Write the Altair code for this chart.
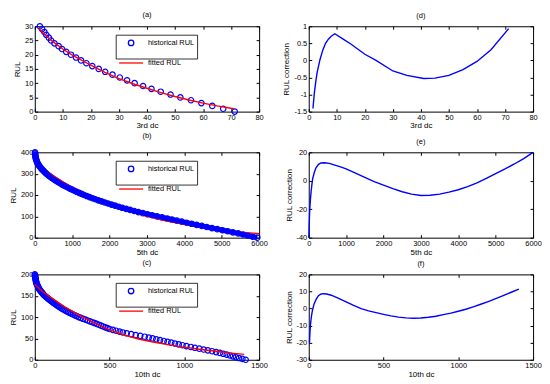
import altair as alt
import pandas as pd

FONT = "Liberation Sans"
BLUE = "#0000ff"
RED = "#ff0000"
FS = 7.5

# ---------------- data ----------------
# (a) 3rd dc
a_hist_x = [1.8, 2.6, 3.4, 4.1, 5.0, 5.8, 7.0, 8.5, 9.7, 11.2, 12.9, 14.7, 16.5, 18.4, 20.5,
            22.8, 25.1, 27.7, 30.3, 32.9, 35.6, 38.6, 41.6, 44.9, 48.4, 51.9, 55.7, 59.4,
            63.3, 67.2, 71.3]
a_hist_y = [30, 29, 28, 27, 26, 25, 24, 23, 22, 21, 20, 19, 18, 17, 16, 15, 14, 13, 12, 11,
            10, 9, 8, 7, 6, 5, 4, 3, 2, 1, 0]
a_fit_x = [1.5, 3, 5, 7.5, 10, 12.5, 15, 20, 25, 30, 35, 40, 45, 50, 55, 60, 65, 71]
a_fit_y = [29.2, 27.6, 25.8, 23.8, 22.0, 20.4, 19.0, 16.3, 13.8, 11.6, 9.8, 8.2, 6.7, 5.3,
           4.1, 3.0, 2.0, 1.0]

# (d) correction, 3rd dc
d_x = [1.5, 2, 2.5, 3, 4, 5, 6, 7, 8, 9.3, 12, 15, 20, 24, 30, 35, 41, 45, 50, 55, 60, 65, 71.3]
d_y = [-1.41, -0.95, -0.62, -0.35, 0.02, 0.3, 0.5, 0.62, 0.71, 0.78, 0.64, 0.48, 0.18, 0.0,
       -0.31, -0.44, -0.53, -0.52, -0.44, -0.27, -0.03, 0.31, 0.93]

# (b) 5th dc
b_hist_x = [5, 7, 10, 14, 18, 24, 30, 38, 48, 59, 72, 88, 105, 124, 145, 169, 195, 222, 250,
            279, 310, 344, 380, 417, 455, 497, 540, 585, 630, 677, 725, 777, 830, 885, 940,
            1000, 1060, 1122, 1185, 1252, 1320, 1392, 1465, 1542, 1620, 1702, 1785, 1872,
            1960, 2052, 2145, 2242, 2340, 2445, 2550, 2660, 2770, 2890, 3010, 3140, 3270,
            3405, 3540, 3670, 3800, 3930, 4060, 4195, 4330, 4465, 4600, 4740, 4880, 5020,
            5160, 5300, 5440, 5570, 5700, 5825, 5950]
b_hist_y = [400, 395, 390, 385, 380, 375, 370, 365, 360, 355, 350, 345, 340, 335, 330, 325,
            320, 315, 310, 305, 300, 295, 290, 285, 280, 275, 270, 265, 260, 255, 250, 245,
            240, 235, 230, 225, 220, 215, 210, 205, 200, 195, 190, 185, 180, 175, 170, 165,
            160, 155, 150, 145, 140, 135, 130, 125, 120, 115, 110, 105, 100, 95, 90, 85, 80,
            75, 70, 65, 60, 55, 50, 45, 40, 35, 30, 25, 20, 15, 10, 5, 0]
b_fit_x = [0, 100, 250, 500, 1000, 1500, 2000, 2500, 3000, 3500, 4000, 4500, 5000, 5500, 6000]
b_fit_y = [355, 340, 318, 290, 234, 190, 155, 125, 100, 79, 62, 47, 36, 26, 19]

# (e) correction, 5th dc
e_x = [3, 10, 26, 45, 61, 80, 105, 150, 193, 260, 330, 420, 550, 700, 850, 1000, 1250, 1500,
       1750, 2000, 2250, 2500, 2750, 3000, 3250, 3500, 3750, 4000, 4250, 4500, 4750, 5000,
       5250, 5500, 5750, 5990]
e_y = [-40, -32, -20.4, -13, -8.3, -3.5, 1.5, 6, 9.1, 11.5, 12.5, 12.7, 12.2, 11, 9.8, 8.3,
       5.3, 2.4, -0.6, -3.1, -5.5, -7.7, -9.4, -10.4, -10.2, -9.4, -8.0, -6.3, -4.1, -1.5,
       1.6, 5.0, 8.3, 11.8, 15.6, 19.8]

# (c) 10th dc
c_hist_x = [0, 1, 2, 3, 4, 5, 6, 7, 8, 9, 10, 12.7, 15.3, 18, 20.7, 23.3, 26, 28.7, 32.3,
            36.9, 41.5, 46.2, 50.8, 55.4, 60, 66.7, 73.3, 80, 86.7, 93.3, 100, 107.7, 115.4,
            123.1, 130.8, 138.5, 146.2, 154.5, 163.6, 172.7, 181.8, 190.9, 200, 211, 222,
            233, 244, 256.3, 268.8, 281.3, 293.8, 307.7, 323, 338.5, 353.8, 369, 384.6, 400,
            414.3, 428.6, 442.9, 457, 471.4, 485.7, 500, 522, 544, 567, 589, 615, 645, 675,
            705, 735, 762.5, 787.5, 812.5, 837.5, 862.5, 887.5, 912.5, 937.5, 962.5, 987.5,
            1014, 1043, 1071, 1100, 1129, 1157, 1186, 1212.5, 1237.5, 1261, 1283, 1305, 1325,
            1345, 1366, 1388, 1410]
c_hist_y = [200, 198, 196, 194, 192, 190, 188, 186, 184, 182, 180, 178, 176, 174, 172, 170,
            168, 166, 164, 162, 160, 158, 156, 154, 152, 150, 148, 146, 144, 142, 140, 138,
            136, 134, 132, 130, 128, 126, 124, 122, 120, 118, 116, 114, 112, 110, 108, 106,
            104, 102, 100, 98, 96, 94, 92, 90, 88, 86, 84, 82, 80, 78, 76, 74, 72, 70, 68, 66,
            64, 62, 60, 58, 56, 54, 52, 50, 48, 46, 44, 42, 40, 38, 36, 34, 32, 30, 28, 26, 24,
            22, 20, 18, 16, 14, 12, 10, 8, 6, 4, 2, 0]
c_fit_x = [0, 50, 100, 200, 300, 400, 500, 600, 700, 800, 900, 1000, 1100, 1200, 1300, 1400]
c_fit_y = [177, 160, 148, 124, 104, 86, 70, 58, 48, 41, 35, 29.5, 24.5, 20.5, 16, 12.5]

# (f) correction, 10th dc
f_x = [5, 8, 12, 18, 25, 35, 50, 65, 80, 95, 120, 150, 200, 250, 300, 350, 400, 450, 500,
       550, 600, 650, 700, 750, 800, 850, 900, 950, 1000, 1050, 1100, 1150, 1200, 1250, 1300,
       1350, 1405]
f_y = [-20, -14, -9, -4.5, -1, 2.5, 5.5, 7.5, 8.4, 8.7, 8.5, 7.8, 6, 3.9, 1.8, -0.1, -1.4,
       -2.4, -3.4, -4.3, -5.0, -5.5, -5.7, -5.5, -5.1, -4.5, -3.6, -2.7, -1.6, -0.4, 1.0, 2.5,
       4.1, 5.8, 7.6, 9.4, 11.4]

SERIES = ["historical RUL", "fitted RUL"]
W, H = 226, 86
LEG_X, LEG_Y, LEG_W, LEG_H = 82, 9, 82, 24


def ax(orient, ticks, title=None, labels=True):
    kw = dict(orient=orient, values=ticks, offset=-3, tickSize=3, tickColor="black",
              domain=False, grid=False, labels=labels, labelFlush=False, labelOverlap=False,
              labelFont=FONT, labelFontSize=FS, labelColor="black", labelPadding=2,
              titleFont=FONT, titleFontSize=8, titleFontWeight="normal", titleColor="black",
              labelExpr="'' + datum.value")
    if title is not None:
        kw["title"] = title
        kw["titlePadding"] = 1 if orient == "bottom" else 3
    else:
        kw["title"] = None
    return alt.Axis(**kw)


def scales(xdom, ydom):
    return (alt.Scale(domain=xdom, nice=False, zero=False),
            alt.Scale(domain=ydom, nice=False, zero=False))


def ptitle(t):
    return alt.TitleParams(text=t, font=FONT, fontSize=FS, fontWeight="normal", color="black",
                           offset=3)


def rul_panel(hx, hy, fx, fy, xdom, xticks, ydom, yticks, xtitle, title, band=False):
    xs, ys = scales(xdom, ydom)
    leg = alt.Legend(orient="none", legendX=LEG_X + 1, legendY=LEG_Y + 1, title=None,
                     labelFont=FONT, labelFontSize=FS, labelColor="black",
                     padding=3, rowPadding=3, labelOffset=6, symbolStrokeWidth=1.3)
    cscale = alt.Scale(domain=SERIES, range=[BLUE, RED])
    sscale = alt.Scale(domain=SERIES, range=["circle", "M-1.2,0H1.2"])
    zscale = alt.Scale(domain=SERIES, range=[30, 400])
    dh = pd.DataFrame({"x": hx, "y": hy, "series": SERIES[0]})
    dfit = pd.DataFrame({"x": fx, "y": fy, "series": SERIES[1]})
    xb = alt.X("x:Q", scale=xs, axis=ax("bottom", xticks, xtitle))
    yl = alt.Y("y:Q", scale=ys, axis=ax("left", yticks, "RUL"))
    pts = alt.Chart(dh).mark_point(filled=False, strokeWidth=1.2, opacity=1).encode(
        x=xb, y=yl,
        color=alt.Color("series:N", scale=cscale, legend=leg),
        shape=alt.Shape("series:N", scale=sscale, legend=leg),
        size=alt.Size("series:N", scale=zscale, legend=leg),
    )
    line = alt.Chart(dfit).mark_line(strokeWidth=1.4).encode(
        x=alt.X("x:Q", scale=xs, axis=ax("top", xticks, labels=False)),
        y=alt.Y("y:Q", scale=ys, axis=ax("right", yticks, labels=False)),
        color=alt.Color("series:N", scale=cscale, legend=leg),
    )
    box = alt.Chart(pd.DataFrame({"k": [0]})).mark_rect(
        fill="white", stroke="black", strokeWidth=0.8).encode(
        x=alt.value(LEG_X), x2=alt.value(LEG_X + LEG_W),
        y=alt.value(LEG_Y), y2=alt.value(LEG_Y + LEG_H))
    layers = [pts, line]
    if band:
        # the dense overlapping circles form a solid band in the reference
        thick = alt.Chart(dh).mark_line(strokeWidth=5, color=BLUE).encode(
            x=alt.X("x:Q", scale=xs, axis=None), y=alt.Y("y:Q", scale=ys, axis=None))
        layers = [pts, line, thick]
    layers.append(box)
    return alt.layer(*layers).resolve_axis(x="independent", y="independent").properties(
        width=W, height=H, title=ptitle(title))


def corr_panel(x, y, xdom, xticks, ydom, yticks, xtitle, title):
    xs, ys = scales(xdom, ydom)
    d = pd.DataFrame({"x": x, "y": y})
    main = alt.Chart(d).mark_line(strokeWidth=1.4, color=BLUE).encode(
        x=alt.X("x:Q", scale=xs, axis=ax("bottom", xticks, xtitle)),
        y=alt.Y("y:Q", scale=ys, axis=ax("left", yticks, "RUL correction")),
    )
    frame = alt.Chart(d).mark_line(strokeOpacity=0).encode(
        x=alt.X("x:Q", scale=xs, axis=ax("top", xticks, labels=False)),
        y=alt.Y("y:Q", scale=ys, axis=ax("right", yticks, labels=False)),
    )
    return alt.layer(main, frame).resolve_axis(x="independent", y="independent").properties(
        width=W, height=H, title=ptitle(title))


pa = rul_panel(a_hist_x, a_hist_y, a_fit_x, a_fit_y, [0, 80], [0, 10, 20, 30, 40, 50, 60, 70, 80],
               [0, 30], [0, 5, 10, 15, 20, 25, 30], "3rd dc", "(a)")
pd_ = corr_panel(d_x, d_y, [0, 80], [0, 10, 20, 30, 40, 50, 60, 70, 80],
                 [-1.5, 1], [-1.5, -1, -0.5, 0, 0.5, 1], "3rd dc", "(d)")
pb = rul_panel(b_hist_x, b_hist_y, b_fit_x, b_fit_y, [0, 6000],
               [0, 1000, 2000, 3000, 4000, 5000, 6000], [0, 400], [0, 100, 200, 300, 400],
               "5th dc", "(b)", band=True)
pe = corr_panel(e_x, e_y, [0, 6000], [0, 1000, 2000, 3000, 4000, 5000, 6000],
                [-40, 20], [-40, -20, 0, 20], "5th dc", "(e)")
pc = rul_panel(c_hist_x, c_hist_y, c_fit_x, c_fit_y, [0, 1500], [0, 500, 1000, 1500],
               [0, 200], [0, 50, 100, 150, 200], "10th dc", "(c)")
pf = corr_panel(f_x, f_y, [0, 1500], [0, 500, 1000, 1500], [-30, 20],
                [-30, -20, -10, 0, 10, 20], "10th dc", "(f)")

chart = alt.concat(pa, pd_, pb, pe, pc, pf, columns=2, spacing={"row": 1, "column": 14}).resolve_scale(
    x="independent", y="independent", color="independent", shape="independent", size="independent"
).properties(padding=0, background="white").configure_view(stroke="black", strokeWidth=1)

chart.save("out.html", embed_options={"renderer": "svg", "actions": False})
